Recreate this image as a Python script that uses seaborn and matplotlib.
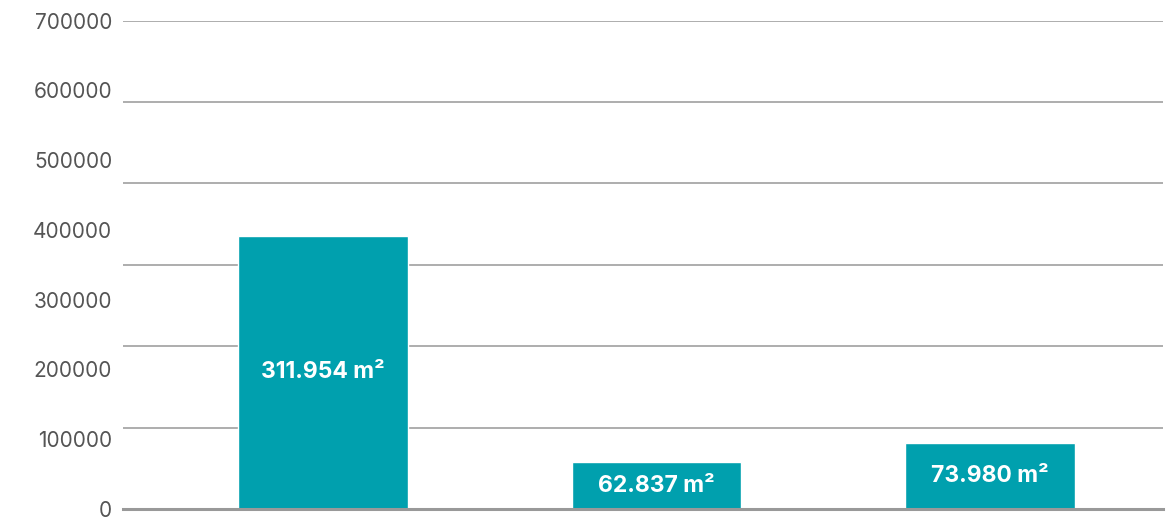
import numpy as np
import pandas as pd
import seaborn as sns
import matplotlib.pyplot as plt
from matplotlib.ticker import MultipleLocator

# bar heights as drawn in the picture, and the texts printed on them
categories = ["A", "B", "C"]
bar_values = [391600, 67300, 94600]
bar_labels = ["311.954 m²", "62.837 m²", "73.980 m²"]
y_ticks = [0, 100000, 200000, 300000, 400000, 500000, 600000, 700000]

df = pd.DataFrame({"cat": categories, "value": bar_values})

sns.set_style("white")
plt.rcParams["font.family"] = ["Inter", "DejaVu Sans"]

fig = plt.figure(figsize=(11.7, 5.18), dpi=100)
ax = fig.add_axes([0.1054, 0.0174, 0.8886, 0.943])

sns.barplot(data=df, x="cat", y="value", color="#00a0ae", saturation=1,
            width=0.51, ax=ax, zorder=3)

# value labels in the middle of each bar
ax.bar_label(ax.containers[0], labels=bar_labels, label_type="center",
             color="white", fontweight="bold", fontsize=16.5)

ax.set_ylim(0, 700000)
ax.set_xlim(-0.6, 2.52)
ax.set_yticks(y_ticks)
ax.set_yticklabels([str(t) for t in y_ticks])
# grid lines follow a different step than the labels
ax.yaxis.set_minor_locator(MultipleLocator(700000 / 6))
ax.yaxis.remove_overlapping_locs = False
ax.grid(False)
ax.grid(axis="y", which="minor", color="#a0a0a0", linewidth=1.2, zorder=0)
ax.tick_params(axis="y", which="both", length=0, pad=8, labelsize=15,
               labelcolor="#555555")
ax.tick_params(axis="x", length=0, labelbottom=False)
ax.set_xlabel("")
ax.set_ylabel("")

for side in ["top", "right", "left"]:
    ax.spines[side].set_visible(False)
ax.spines["bottom"].set_color("#999999")
ax.spines["bottom"].set_linewidth(2.2)
ax.spines["bottom"].set_zorder(4)

fig.savefig("out.png", dpi=100)
